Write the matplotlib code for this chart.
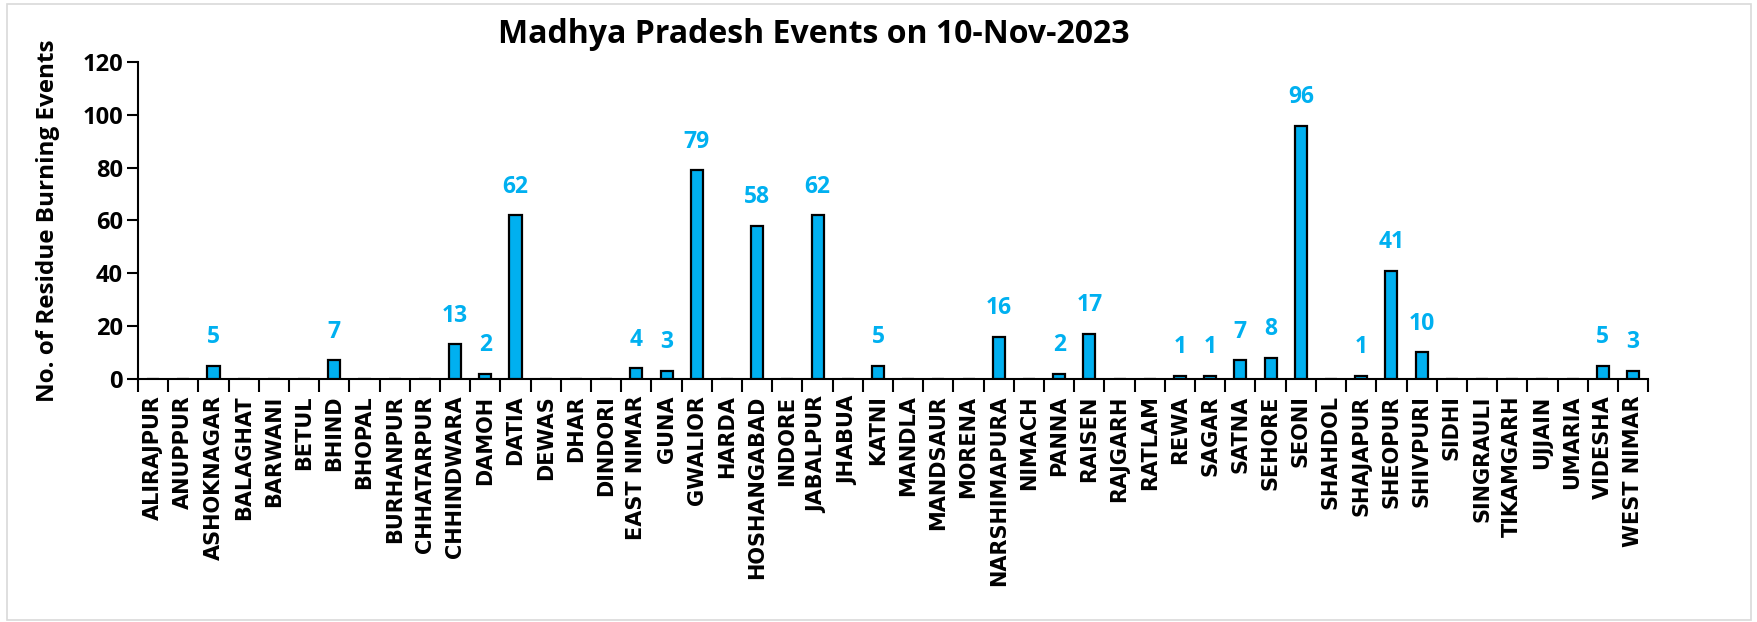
import numpy as np
import matplotlib.pyplot as plt
from matplotlib.patches import Rectangle

districts = [
    'ALIRAJPUR', 'ANUPPUR', 'ASHOKNAGAR', 'BALAGHAT', 'BARWANI', 'BETUL', 'BHIND',
    'BHOPAL', 'BURHANPUR', 'CHHATARPUR', 'CHHINDWARA', 'DAMOH', 'DATIA', 'DEWAS',
    'DHAR', 'DINDORI', 'EAST NIMAR', 'GUNA', 'GWALIOR', 'HARDA', 'HOSHANGABAD',
    'INDORE', 'JABALPUR', 'JHABUA', 'KATNI', 'MANDLA', 'MANDSAUR', 'MORENA',
    'NARSHIMAPURA', 'NIMACH', 'PANNA', 'RAISEN', 'RAJGARH', 'RATLAM', 'REWA',
    'SAGAR', 'SATNA', 'SEHORE', 'SEONI', 'SHAHDOL', 'SHAJAPUR', 'SHEOPUR',
    'SHIVPURI', 'SIDHI', 'SINGRAULI', 'TIKAMGARH', 'UJJAIN', 'UMARIA', 'VIDESHA',
    'WEST NIMAR',
]
events = [
    0, 0, 5, 0, 0, 0, 7,
    0, 0, 0, 13, 2, 62, 0,
    0, 0, 4, 3, 79, 0, 58,
    0, 62, 0, 5, 0, 0, 0,
    16, 0, 2, 17, 0, 0, 1,
    1, 7, 8, 96, 0, 1, 41,
    10, 0, 0, 0, 0, 0, 5,
    3,
]
yticks = [0, 20, 40, 60, 80, 100, 120]

bar_color = '#00B0F0'
plt.rcParams['font.family'] = ['Open Sans', 'DejaVu Sans']
cat_font = ['DejaVu Sans']

fig = plt.figure(figsize=(17.58, 6.22), dpi=100)
ax = fig.add_axes([0.0785, 0.391, 0.859, 0.509])

x = np.arange(len(districts))
ax.bar(x, events, width=0.4, color=bar_color, edgecolor='black', linewidth=1.6, zorder=3)

# value labels only where there were events
for xi, v in zip(x, events):
    if v > 0:
        ax.annotate(str(v), (xi, v), xytext=(0, 12), textcoords='offset points',
                    ha='center', va='bottom', color=bar_color, fontsize=16.5,
                    fontweight='bold')

ax.set_xlim(-0.5, len(districts) - 0.5)
ax.set_ylim(0, 120)
ax.set_yticks(yticks)
ax.set_yticklabels([str(t) for t in yticks], fontsize=17, fontweight='bold')
ax.set_xticks(x)
ax.set_xticklabels(districts, rotation=90, fontsize=15, fontweight='bold', family=cat_font)
ax.tick_params(axis='x', length=0, pad=12)
# tick marks between categories, like Excel
ax.set_xticks(np.arange(-0.5, len(districts)), minor=True)
ax.tick_params(axis='x', which='minor', length=9, width=1.5, direction='out')
ax.tick_params(axis='y', length=8, width=1.5, direction='out', pad=3)

for side in ['top', 'right']:
    ax.spines[side].set_visible(False)
for side in ['left', 'bottom']:
    ax.spines[side].set_linewidth(1.5)

ax.set_ylabel('No. of Residue Burning Events', fontsize=17.5, fontweight='bold', labelpad=16)
fig.text(0.463, 0.945, 'Madhya Pradesh Events on 10-Nov-2023', ha='center', va='center',
         fontsize=23, fontweight='bold')

fig.patches.append(Rectangle((0.004, 0.004), 0.992, 0.99, transform=fig.transFigure,
                             fill=False, edgecolor='#D9D9D9', linewidth=1.2))

plt.savefig('out.png', dpi=100)
